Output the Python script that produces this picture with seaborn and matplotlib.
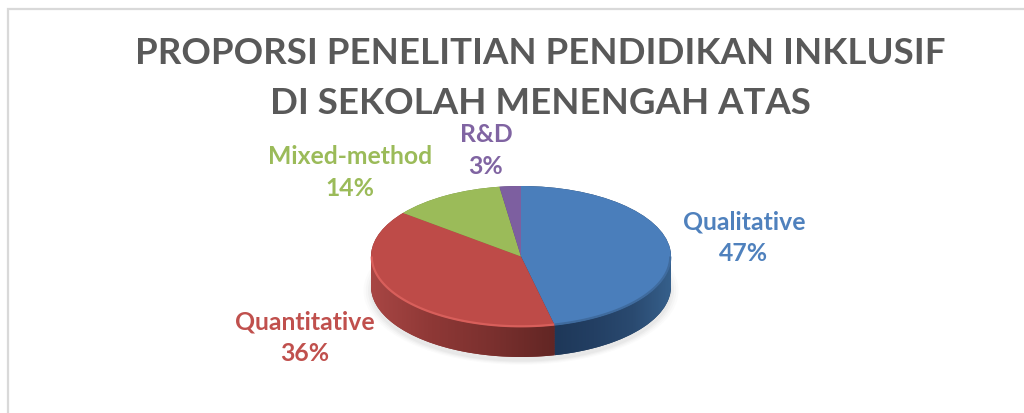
import numpy as np
import matplotlib
matplotlib.use("Agg")
import matplotlib.pyplot as plt
from matplotlib.patches import Polygon, Rectangle
from matplotlib.colors import LinearSegmentedColormap
import seaborn as sns

categories = ["Qualitative", "Quantitative", "Mixed-method", "R&D"]
labelled_shares = [47, 36, 14, 3]
# slice sizes as they appear in the tilted drawing (perspective widens the front slices)
drawn_shares = [46.4, 39.2, 12.1, 2.3]
title_lines = ["PROPORSI PENELITIAN PENDIDIKAN INKLUSIF", "DI SEKOLAH MENENGAH ATAS"]
top_colors = ["#4A7EBB", "#BE4B48", "#9BBB59", "#7D5FA0"]
text_colors = ["#4F81BD", "#C0504D", "#9BBB59", "#8064A2"]
side_colors = ["#213A5A", "#8B3533", "#6F8A3C", "#5A4474"]

sns.set_theme(style="white")
plt.rcParams["font.family"] = ["Lato", "DejaVu Sans"]

W, H = 1024, 414
cx, cy, rx, ry, depth = 521.0, 257.5, 150.0, 70.5, 30.0
d = depth / ry

fig = plt.figure(figsize=(W / 100, H / 100), dpi=100, facecolor="white")
ax = fig.add_axes([0, 0, 1, 1])

def place():
    ax.set_aspect("auto")
    ax.set_xlim(-cx / rx, (W - cx) / rx)
    ax.set_ylim((cy - H) / ry, cy / ry)
    ax.axis("off")

# soft shadow under the disc
for grow, alpha in [(1.05, .03), (1.035, .04), (1.02, .05), (1.005, .06)]:
    ax.pie([1], radius=grow, center=(0.0, -d - 0.06), colors=["#808080"],
           wedgeprops={"alpha": alpha, "linewidth": 0})

# extruded side: stacked copies of the same pie
for off in np.linspace(d, 0, 16):
    ax.pie(drawn_shares, startangle=90, counterclock=False, center=(0, -off),
           colors=sns.color_palette(side_colors), wedgeprops={"linewidth": 0})

# shaded wall of the two front slices
edges = 90 - np.cumsum([0] + drawn_shares) * 3.6
walls = [(0.0, edges[1], ["#1E3859", "#233F63", "#2A4A70", "#36608C"]),
         (edges[1], -180.0, ["#A84644", "#8E3836", "#7A302E", "#622624"])]
for start, stop, ramp in walls:
    t = np.radians(np.linspace(start, stop, 100))
    xs, ys = np.cos(t), np.sin(t)
    poly = Polygon(np.r_[np.c_[xs, ys], np.c_[xs[::-1], ys[::-1] - d]],
                   closed=True, transform=ax.transData, facecolor="none", edgecolor="none")
    ax.add_patch(poly)
    cmap = LinearSegmentedColormap.from_list("wall", ramp)
    im = ax.imshow(np.linspace(0, 1, 256)[None, :], cmap=cmap, aspect="auto",
                   extent=[xs.min(), xs.max(), -1 - d, 1], zorder=2)
    im.set_clip_path(poly)

# top face
wedges, _ = ax.pie(drawn_shares, startangle=90, counterclock=False,
                   colors=sns.color_palette(top_colors), wedgeprops={"linewidth": 0})
for w in wedges:
    w.set_zorder(3)

# bevel on the rim of the top face
t = np.radians(np.linspace(edges[1], -180, 120))
ax.plot(np.cos(t) * .995, np.sin(t) * .99, color="#D85F5B", lw=1.6, zorder=4, solid_capstyle="butt")
t = np.radians(np.linspace(0, edges[1], 120))
ax.plot(np.cos(t) * .995, np.sin(t) * .99, color="#3F6B9E", lw=1.6, zorder=4, solid_capstyle="butt")
place()

fig.add_artist(Rectangle((8 / W, -5 / H), (W + 10) / W, (H - 5) / H, transform=fig.transFigure,
                         facecolor="none", edgecolor="#D9D9D9", lw=1.6))

def put(x, y, s, **kw):
    fig.text(x / W, 1 - y / H, s, ha="center", va="center", fontweight="bold", **kw)

put(540, 53, title_lines[0], color="#595959", fontsize=26.4)
put(540, 104, title_lines[1], color="#595959", fontsize=26.4)

label_xy = [(744, 222, 254), (305, 322, 354), (350, 157, 189), (486, 135, 167)]
for name, share, col, (x, y1, y2) in zip(categories, labelled_shares, text_colors, label_xy):
    put(x, y1, name, color=col, fontsize=17.8)
    put(x, y2, f"{share}%", color=col, fontsize=17.8)

fig.savefig("out.png", dpi=100, facecolor="white")
